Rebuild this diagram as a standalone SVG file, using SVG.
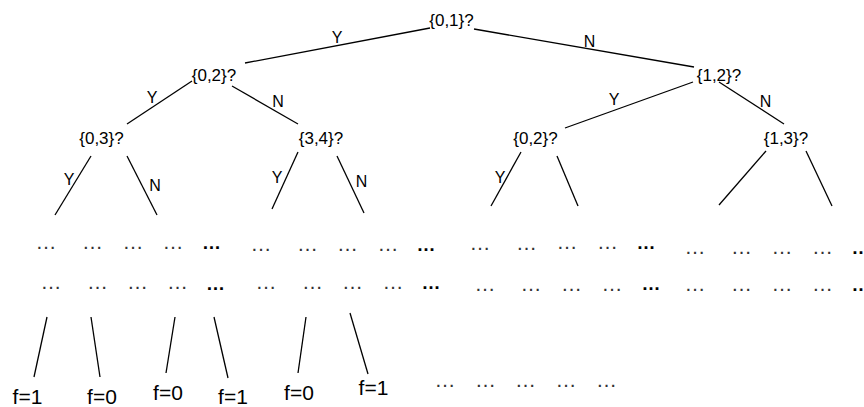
<svg xmlns="http://www.w3.org/2000/svg" width="864" height="407" viewBox="0 0 864 407">
<style>
text{font-family:"Liberation Sans",Arial,sans-serif;fill:#000;text-anchor:middle}
.node{font-size:17px}
.lbl{font-size:16px}
.leaf{font-size:21px}
.el{font-size:21px;fill:#333}
.elb{font-size:19px;font-weight:bold}
#connectors line{stroke:#000;stroke-width:1.3}
</style>
<rect width="864" height="407" fill="#fff"/>
<g id="connectors">
<line x1="245" y1="63" x2="430" y2="28"/>
<line x1="474" y1="29" x2="694" y2="67"/>
<line x1="192" y1="81" x2="127" y2="124"/>
<line x1="232" y1="86" x2="298" y2="124"/>
<line x1="693" y1="82" x2="565" y2="128"/>
<line x1="719" y1="82" x2="784" y2="124"/>
<line x1="91" y1="156" x2="55" y2="215"/>
<line x1="127" y1="156" x2="157" y2="215"/>
<line x1="298" y1="152" x2="272" y2="209"/>
<line x1="337" y1="156" x2="364" y2="213"/>
<line x1="521" y1="152" x2="491" y2="206"/>
<line x1="557" y1="156" x2="578" y2="206"/>
<line x1="766" y1="151" x2="719" y2="205"/>
<line x1="806" y1="151" x2="832" y2="206"/>
<line x1="47" y1="317" x2="34" y2="377"/>
<line x1="91" y1="317" x2="100" y2="377"/>
<line x1="175" y1="317" x2="166" y2="373"/>
<line x1="214" y1="317" x2="228" y2="378"/>
<line x1="306" y1="317" x2="298" y2="373"/>
<line x1="350" y1="313" x2="368" y2="374"/>
<text class="lbl" x="337" y="43">Y</text>
<text class="lbl" x="589.5" y="46.5">N</text>
<text class="lbl" x="152" y="102.5">Y</text>
<text class="lbl" x="278" y="107">N</text>
<text class="lbl" x="614" y="105">Y</text>
<text class="lbl" x="765.5" y="107">N</text>
<text class="lbl" x="69" y="185">Y</text>
<text class="lbl" x="155" y="190.5">N</text>
<text class="lbl" x="277" y="183">Y</text>
<text class="lbl" x="361.5" y="186.5">N</text>
<text class="lbl" x="500" y="183">Y</text>
</g>
<g id="n01"><text class="node" x="451.5" y="26">{0,1}?</text></g>
<g id="n02a"><text class="node" x="214" y="81">{0,2}?</text></g>
<g id="n12"><text class="node" x="719" y="81">{1,2}?</text></g>
<g id="n03"><text class="node" x="101.5" y="143.5">{0,3}?</text></g>
<g id="n34"><text class="node" x="321" y="143.5">{3,4}?</text></g>
<g id="n02b"><text class="node" x="535.5" y="143.5">{0,2}?</text></g>
<g id="n13"><text class="node" x="786" y="143.5">{1,3}?</text></g>
<g id="ellipses">
<text class="el" x="46" y="249">…</text>
<text class="el" x="92.5" y="249">…</text>
<text class="el" x="133" y="249">…</text>
<text class="el" x="173" y="249">…</text>
<text class="elb" x="211.5" y="248.5">…</text>
<text class="el" x="261" y="251">…</text>
<text class="el" x="307.5" y="251">…</text>
<text class="el" x="347.5" y="251">…</text>
<text class="el" x="388" y="251">…</text>
<text class="elb" x="426" y="251">…</text>
<text class="el" x="480" y="249.5">…</text>
<text class="el" x="526.5" y="249.5">…</text>
<text class="el" x="567" y="249">…</text>
<text class="el" x="607.5" y="249">…</text>
<text class="elb" x="646" y="248.5">…</text>
<text class="el" x="695" y="254">…</text>
<text class="el" x="741.5" y="254">…</text>
<text class="el" x="782" y="254">…</text>
<text class="el" x="822.5" y="254">…</text>
<text class="elb" x="861" y="254">…</text>
<text class="el" x="51" y="289">…</text>
<text class="el" x="97.5" y="289">…</text>
<text class="el" x="137.5" y="289">…</text>
<text class="el" x="177.5" y="289">…</text>
<text class="elb" x="215.5" y="289.5">…</text>
<text class="el" x="266" y="289">…</text>
<text class="el" x="312.5" y="289">…</text>
<text class="el" x="352.5" y="289">…</text>
<text class="el" x="393" y="289">…</text>
<text class="elb" x="431" y="289">…</text>
<text class="el" x="485" y="290.5">…</text>
<text class="el" x="531" y="290.5">…</text>
<text class="el" x="571.5" y="290.5">…</text>
<text class="el" x="612" y="290.5">…</text>
<text class="elb" x="651" y="290">…</text>
<text class="el" x="695" y="290.5">…</text>
<text class="el" x="741.5" y="290.5">…</text>
<text class="el" x="782" y="290.5">…</text>
<text class="el" x="822.5" y="290.5">…</text>
<text class="elb" x="861" y="290.5">…</text>
<text class="el" x="445" y="386.5">…</text>
<text class="el" x="485.5" y="386.5">…</text>
<text class="el" x="525.5" y="386.5">…</text>
<text class="el" x="566" y="386.5">…</text>
<text class="el" x="606.5" y="386.5">…</text>
</g>
<g id="leaf1"><text class="leaf" x="27.5" y="404">f=1</text></g>
<g id="leaf2"><text class="leaf" x="102" y="403.5">f=0</text></g>
<g id="leaf3"><text class="leaf" x="168" y="399.5">f=0</text></g>
<g id="leaf4"><text class="leaf" x="233" y="404">f=1</text></g>
<g id="leaf5"><text class="leaf" x="299" y="400">f=0</text></g>
<g id="leaf6"><text class="leaf" x="373.5" y="395">f=1</text></g>
</svg>
